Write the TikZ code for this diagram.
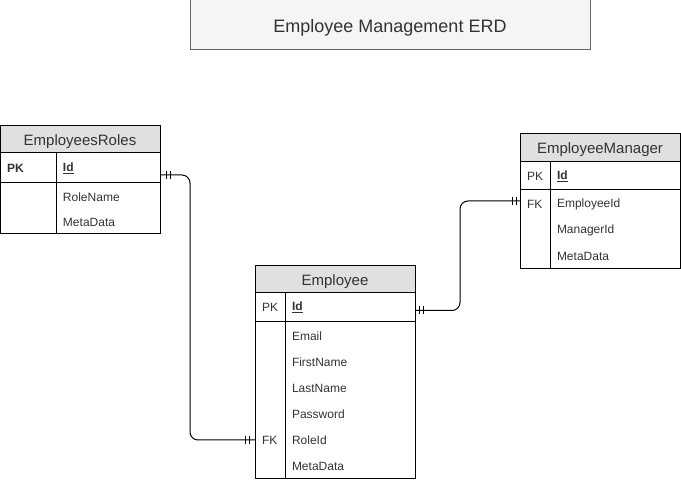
\documentclass[tikz,border=0pt]{standalone}
\usepackage{fontspec}
\setmainfont{Liberation Sans}
\usepackage{tikz}
\usetikzlibrary{positioning}

\definecolor{hdrgray}{HTML}{E0E0E0}
\definecolor{titlefill}{HTML}{F5F5F5}
\definecolor{titleline}{HTML}{666666}
\definecolor{txtgray}{HTML}{333333}

\begin{document}
\begin{tikzpicture}[x=1pt, y=-1pt, line width=1pt,
  every node/.style={inner sep=0pt, outer sep=0pt},
  header/.style={draw, fill=hdrgray, anchor=north west, minimum width=160pt, text height=15pt, text=txtgray, font=\fontsize{15}{17}\selectfont},
  box/.style={draw, anchor=north west, minimum width=160pt},
  field/.style={anchor=west, text=txtgray, font=\fontsize{12}{14}\selectfont},
  link/.style={rounded corners=8pt}]
\useasboundingbox (0,0) rectangle (681,481);

\node[draw=titleline, fill=titlefill, minimum width=400pt, minimum height=50pt, text height=18pt, text=txtgray, font=\fontsize{18}{20}\selectfont] (title) at (390,25) {Employee Management ERD};

\node[header, minimum height=27pt] (roles) at (0,126) {EmployeesRoles};
\node[box, minimum height=30pt] (rolesPk) at (0,153) {};
\node[box, minimum height=51pt] (rolesBody) at (0,183) {};
\draw (56,153) -- (56,234);
\node[field] (rolesPkLbl) at (7,168) {\textbf{PK}};
\node[field] (rolesId) at (63,168) {\textbf{\underline{Id}}};
\node[field] (rolesName) at (63,197) {RoleName};
\node[field] (rolesMeta) at (63,222) {MetaData};

\node[header, minimum height=28pt] (mgr) at (520,134) {EmployeeManager};
\node[box, minimum height=28pt] (mgrPk) at (520,162) {};
\node[box, minimum height=79pt] (mgrBody) at (520,190) {};
\draw (550,162) -- (550,269);
\node[field] (mgrPkLbl) at (527,176) {PK};
\node[field] (mgrId) at (557,176) {\textbf{\underline{Id}}};
\node[field] (mgrFkLbl) at (527,204) {FK};
\node[field] (mgrEmpId) at (557,204) {EmployeeId};
\node[field] (mgrMgrId) at (557,230) {ManagerId};
\node[field] (mgrMeta) at (557,256) {MetaData};

\node[header, minimum height=27pt] (emp) at (255,266) {Employee};
\node[box, minimum height=29pt] (empPk) at (255,293) {};
\node[box, minimum height=156pt] (empBody) at (255,322) {};
\draw (285,293) -- (285,478);
\node[field] (empPkLbl) at (262,307) {PK};
\node[field] (empId) at (292,307) {\textbf{\underline{Id}}};
\node[field] (empEmail) at (292,336) {Email};
\node[field] (empFirst) at (292,362) {FirstName};
\node[field] (empLast) at (292,388) {LastName};
\node[field] (empPass) at (292,414) {Password};
\node[field] (empFkLbl) at (262,440) {FK};
\node[field] (empRoleId) at (292,440) {RoleId};
\node[field] (empMeta) at (292,466) {MetaData};

\coordinate (rolesEnd) at ([yshift=-7pt]rolesPk.east);
\coordinate (empRoleEnd) at (empBody.west |- empRoleId.west);
\coordinate (empIdEnd) at ([yshift=-3pt]empPk.east);
\coordinate (mgrEnd) at ([yshift=3pt]mgrBody.west |- mgrEmpId.west);

\draw[link] (rolesEnd) -- ++(30,0) |- (empRoleEnd);
\draw[link] (empIdEnd) -- ++(45,0) |- (mgrEnd);

\foreach \p/\d in {rolesEnd/6, rolesEnd/10, empRoleEnd/-6, empRoleEnd/-10, empIdEnd/4, empIdEnd/8, mgrEnd/-4, mgrEnd/-8}
  \draw ([xshift=\d pt]\p) ++(0,-4) -- ++(0,8);
\end{tikzpicture}
\end{document}
